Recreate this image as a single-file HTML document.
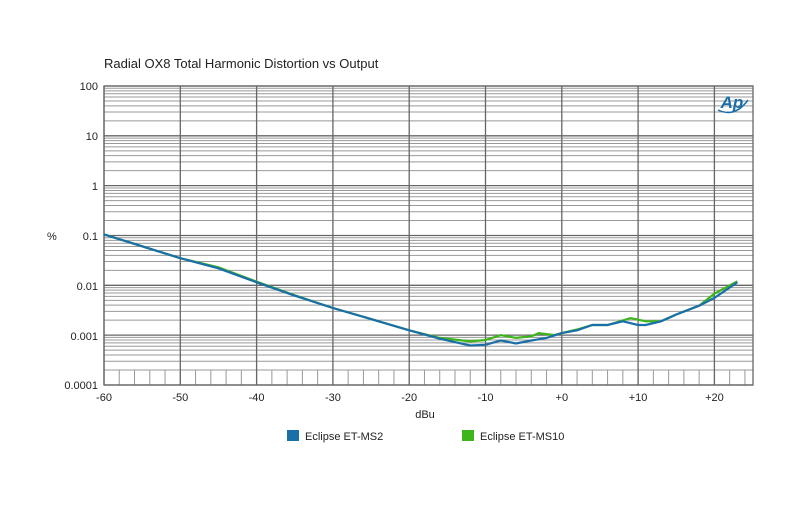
<!DOCTYPE html>
<html><head><meta charset="utf-8"><style>
body{margin:0;background:#fff;width:800px;height:500px;overflow:hidden;font-family:"Liberation Sans",sans-serif}
</style></head><body>
<svg id="s" width="800" height="500" xmlns="http://www.w3.org/2000/svg" font-family="Liberation Sans, sans-serif">
<text x="104" y="68" font-size="13" fill="#222">Radial OX8 Total Harmonic Distortion vs Output</text>
<g id="grid"></g>
<g font-size="11" fill="#222" text-anchor="end">
<text x="98" y="90">100</text><text x="98" y="140">10</text><text x="98" y="190">1</text>
<text x="98" y="240">0.1</text><text x="98" y="290">0.01</text><text x="98" y="340">0.001</text>
<text x="98" y="389">0.0001</text>
</g>
<text x="47" y="240" font-size="11" fill="#222">%</text>
<g font-size="11" fill="#222" text-anchor="middle" id="xl"></g>
<text x="425" y="418" font-size="11" fill="#222" text-anchor="middle">dBu</text>
<path id="g" fill="none" stroke="#3db51b" stroke-width="2.2"/>
<path id="b" fill="none" stroke="#1a6fa8" stroke-width="2.2"/>
<text x="732" y="108" font-size="17" font-style="italic" font-weight="bold" fill="#1a6fa8" text-anchor="middle">Ap</text>
<path d="M718,110 Q735,118 748,100" fill="none" stroke="#1a6fa8" stroke-width="1.5"/>
<rect x="287" y="430" width="12" height="11" fill="#1a6fa8"/>
<text x="305" y="440" font-size="11" fill="#222">Eclipse ET-MS2</text>
<rect x="462" y="430" width="12" height="11" fill="#3db51b"/>
<text x="480" y="440" font-size="11" fill="#222">Eclipse ET-MS10</text>
</svg>
<script>
var X0=104,PX=7.63,Y0=86,DY=49.83,R=753,B=385;
function X(d){return X0+(d+60)*PX}
function Y(v){return Y0+(2-Math.log10(v))*DY}
var g='';
for(var k=0;k<6;k++){for(var m=2;m<10;m++){var y=Y(Math.pow(10,2-k-1)*m);g+='<line x1="'+X0+'" x2="'+R+'" y1="'+y+'" y2="'+y+'" stroke="#999" stroke-width="1"/>';}}
for(var k=0;k<=6;k++){var y=Y0+k*DY;g+='<line x1="'+X0+'" x2="'+R+'" y1="'+y+'" y2="'+y+'" stroke="#666" stroke-width="1.3"/>';}
for(var d=-58;d<=24;d+=2){var x=X(d);g+='<line x1="'+x+'" x2="'+x+'" y1="'+Y(0.0002)+'" y2="'+B+'" stroke="#999"/>';}
var xl='';
for(var d=-60;d<=20;d+=10){var x=X(d);g+='<line x1="'+x+'" x2="'+x+'" y1="'+Y0+'" y2="'+B+'" stroke="#666" stroke-width="1.3"/>';
xl+='<text x="'+x+'" y="401">'+(d>0?'+'+d:(d==0?'+0':d))+'</text>';}
g+='<rect x="'+X0+'" y="'+Y0+'" width="'+(R-X0)+'" height="'+(B-Y0)+'" fill="none" stroke="#666" stroke-width="1.3"/>';
document.getElementById('grid').innerHTML=g;document.getElementById('xl').innerHTML=xl;
var bd=[[-60,0.105],[-50,0.035],[-45,0.022],[-40,0.0115],[-35,0.0062],[-30,0.0035],[-25,0.0021],[-20,0.00125],[-16,0.00085],[-12,0.00062],[-10,0.00064],[-8,0.00078],[-6,0.00068],[-4,0.00078],[-2,0.00088],[0,0.0011],[2,0.00125],[4,0.0016],[6,0.0016],[8,0.0019],[10,0.0016],[11,0.0016],[13,0.0019],[15,0.0026],[18,0.0039],[20,0.0056],[23,0.0115]];
var gd=[[-60,0.105],[-50,0.035],[-45,0.023],[-40,0.0118],[-35,0.0063],[-30,0.0035],[-25,0.0021],[-20,0.00125],[-16,0.00088],[-12,0.00075],[-10,0.0008],[-8,0.001],[-6,0.00088],[-4,0.00095],[-3,0.0011],[-1,0.001],[0,0.0011],[2,0.0013],[4,0.0016],[6,0.0016],[9,0.0022],[11,0.0019],[13,0.0019],[15,0.0026],[18,0.0039],[20,0.0068],[23,0.012]];
function p(a){return a.map(function(q,i){return (i?'L':'M')+X(q[0]).toFixed(1)+','+Y(q[1]).toFixed(1)}).join('')}
document.getElementById('b').setAttribute('d',p(bd));document.getElementById('g').setAttribute('d',p(gd));
</script>
</body></html>
